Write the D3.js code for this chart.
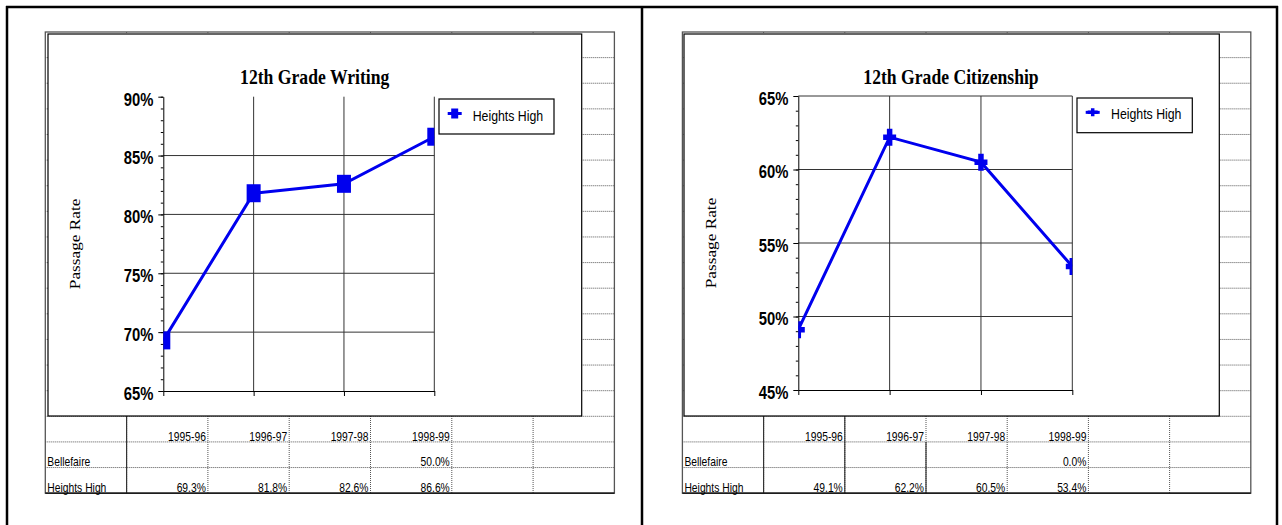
<!DOCTYPE html>
<html>
<head>
<meta charset="utf-8">
<script src="https://cdn.jsdelivr.net/npm/d3@7"></script>
<style>
  html, body { margin: 0; padding: 0; background: #fff; overflow: hidden; }
</style>
</head>
<body>
<div id="chart"></div>
<script>
var years = ['1995-96', '1996-97', '1997-98', '1998-99'];
var rowNames = ['Bellefaire', 'Heights High'];
var writingBellefaire = [null, null, null, 50.0];
var writingHeights = [69.3, 81.8, 82.6, 86.6];
var citizenBellefaire = [null, null, null, 0.0];
var citizenHeights = [49.1, 62.2, 60.5, 53.4];
var writingTicks = [65, 70, 75, 80, 85, 90];
var citizenTicks = [45, 50, 55, 60, 65];

var W = 1282, H = 525;
var blue = '#0000ee';
var SX = 0.82; // the scan is squeezed sideways, text looks tall and narrow
var sans = 'Arial, "Liberation Sans", sans-serif';
var serif = '"Times New Roman", "Liberation Serif", serif';

var panels = [
  {
    title: '12th Grade Writing', belle: writingBellefaire, heights: writingHeights,
    ticks: writingTicks, marker: 'square', topGrid: false,
    sheetX: 45.3, colW: 81.3, solidCols: [[1, 0]],
    box: [48, 34, 581.7, 416], plot: [163.3, 96.7, 434.3, 391],
    legend: [439, 99, 554, 134], titleX: 314.7, yTitleX: 80,
    legendTextX: 472.7, legendMarkX: 454.7
  },
  {
    title: '12th Grade Citizenship', belle: citizenBellefaire, heights: citizenHeights,
    ticks: citizenTicks, marker: 'cross', topGrid: true,
    sheetX: 682.4, colW: 81.2, solidCols: [[1, 0], [2, 0], [3, 1]],
    box: [684, 34, 1219.3, 416], plot: [798.3, 96, 1072.3, 390],
    legend: [1077, 98, 1192.3, 132.7], titleX: 951, yTitleX: 716,
    legendTextX: 1111, legendMarkX: 1092.7
  }
];

var sheetTop = 32, rowH = 25.62, nRows = 18, nCols = 7;

var svg = d3.select('#chart').append('svg')
  .attr('width', W).attr('height', H);

// squeezed text helper
function label(g, x, y, s, o) {
  o = o || {};
  var t = 'translate(' + x + ',' + y + ') scale(' + (o.sx || SX) + ',1)';
  if (o.rotate) t += ' rotate(-90)';
  return g.append('text')
    .attr('transform', t)
    .attr('text-anchor', o.anchor || 'start')
    .style('font-family', o.family || sans)
    .style('font-size', (o.size || 12) + 'px')
    .style('font-weight', o.bold ? 'bold' : 'normal')
    .style('fill', '#000')
    .text(s);
}

function crossPath(w, h, t) {
  return 'M' + (-t / 2) + ',' + (-h / 2) + 'H' + (t / 2) + 'V' + (-t / 2) + 'H' + (w / 2) +
    'V' + (t / 2) + 'H' + (t / 2) + 'V' + (h / 2) + 'H' + (-t / 2) + 'V' + (t / 2) +
    'H' + (-w / 2) + 'V' + (-t / 2) + 'H' + (-t / 2) + 'Z';
}

function drawMarker(g, kind, cx, cy, big) {
  if (kind === 'square') {
    var w = big ? 14 : 7, h = big ? 18 : 10;
    g.append('rect').attr('x', cx - w / 2).attr('y', cy - h / 2)
      .attr('width', w).attr('height', h).attr('fill', blue);
  } else {
    g.append('path').attr('transform', 'translate(' + cx + ',' + cy + ')')
      .attr('d', big ? crossPath(13, 17, 5.5) : crossPath(10, 8, 3.5))
      .attr('fill', blue);
  }
}

// page frame
var frame = svg.append('g').attr('stroke', '#000').attr('stroke-width', 2.5);
frame.append('line').attr('x1', 6).attr('x2', 1278).attr('y1', 7).attr('y2', 7);
[7, 642, 1277].forEach(function(x) {
  frame.append('line').attr('x1', x).attr('x2', x).attr('y1', 6).attr('y2', H);
});

panels.forEach(function(p, pi) {
  var g = svg.append('g');
  var sx0 = p.sheetX, sx1 = p.sheetX + nCols * p.colW;
  var sy1 = sheetTop + nRows * rowH;

  // spreadsheet cells behind the chart
  var sheet = g.append('g');
  d3.range(1, nRows).forEach(function(r) {
    sheet.append('line').attr('x1', sx0).attr('x2', sx1)
      .attr('y1', sheetTop + r * rowH).attr('y2', sheetTop + r * rowH)
      .attr('stroke', '#555').attr('stroke-dasharray', '1,1');
  });
  d3.range(1, nCols).forEach(function(c) {
    sheet.append('line').attr('x1', sx0 + c * p.colW).attr('x2', sx0 + c * p.colW)
      .attr('y1', sheetTop).attr('y2', sy1)
      .attr('stroke', '#555').attr('stroke-dasharray', '1,1');
  });
  p.solidCols.forEach(function(sc) {
    var x = sx0 + sc[0] * p.colW;
    sheet.append('line').attr('x1', x).attr('x2', x)
      .attr('y1', sheetTop + (nRows - 3 + sc[1]) * rowH).attr('y2', sy1)
      .attr('stroke', '#333').attr('stroke-width', 1.2);
  });
  sheet.append('rect').attr('x', sx0).attr('y', sheetTop)
    .attr('width', sx1 - sx0).attr('height', sy1 - sheetTop)
    .attr('fill', 'none').attr('stroke', '#555').attr('stroke-width', 1.3);
  sheet.append('line').attr('x1', sx0).attr('x2', sx1).attr('y1', sy1).attr('y2', sy1)
    .attr('stroke', '#000').attr('stroke-width', 1.3);

  // table text
  var rowBase = [sheetTop + (nRows - 2) * rowH - 1.2, sheetTop + (nRows - 1) * rowH - 1.2, sy1 - 1.5];
  years.forEach(function(yr, i) {
    label(g, sx0 + (i + 2) * p.colW - 2, rowBase[0], yr, { anchor: 'end', sx: 0.86 });
  });
  [p.belle, p.heights].forEach(function(vals, r) {
    label(g, sx0 + 2, rowBase[r + 1], rowNames[r], { sx: 0.86 });
    vals.forEach(function(v, i) {
      if (v === null) return;
      label(g, sx0 + (i + 2) * p.colW - 2, rowBase[r + 1], d3.format('.1f')(v) + '%', { anchor: 'end', sx: 0.86 });
    });
  });

  // chart object
  var b = p.box;
  g.append('rect').attr('x', b[0]).attr('y', b[1])
    .attr('width', b[2] - b[0]).attr('height', b[3] - b[1])
    .attr('fill', '#fff').attr('stroke', '#000').attr('stroke-width', 1.2);

  label(g, p.titleX, 84, p.title, { anchor: 'middle', family: serif, bold: true, size: 21.5 });
  label(g, p.yTitleX, (p.plot[1] + p.plot[3]) / 2, 'Passage Rate',
    { anchor: 'middle', family: serif, size: 17.3, rotate: true });

  var pl = p.plot;
  var x = d3.scalePoint().domain(years).range([pl[0], pl[2]]);
  var y = d3.scaleLinear().domain(d3.extent(p.ticks)).range([pl[3], pl[1]]);

  // grid
  var grid = g.append('g').attr('stroke', '#333').attr('stroke-width', 1);
  p.ticks.forEach(function(t, i) {
    if (i === 0) return;
    if (i === p.ticks.length - 1 && !p.topGrid) return;
    grid.append('line').attr('x1', pl[0]).attr('x2', pl[2]).attr('y1', y(t)).attr('y2', y(t));
  });
  years.slice(1).forEach(function(yr) {
    grid.append('line').attr('x1', x(yr)).attr('x2', x(yr)).attr('y1', pl[1]).attr('y2', pl[3]);
  });

  // axes
  var minor = g.append('g').attr('transform', 'translate(' + pl[0] + ',0)')
    .call(d3.axisLeft(y).tickValues(d3.range(p.ticks[0], p.ticks[p.ticks.length - 1] + 1))
      .tickSize(2.5).tickSizeOuter(0).tickFormat(''));
  minor.select('.domain').remove();
  minor.selectAll('line').attr('stroke', '#000');

  var yAxis = g.append('g').attr('transform', 'translate(' + pl[0] + ',0)')
    .call(d3.axisLeft(y).tickValues(p.ticks).tickSize(5).tickSizeOuter(0)
      .tickFormat(function(d) { return d + '%'; }));
  yAxis.select('.domain').attr('stroke', '#000');
  yAxis.selectAll('line').attr('stroke', '#000');
  yAxis.selectAll('text')
    .attr('x', null).attr('dy', null)
    .attr('transform', 'translate(-10,8.3) scale(0.8,1)')
    .style('font-family', sans).style('font-size', '18.5px')
    .style('font-weight', 'bold').attr('fill', '#000');

  var xAxis = g.append('g').attr('transform', 'translate(0,' + pl[3] + ')')
    .call(d3.axisBottom(x).tickSize(5).tickSizeOuter(0).tickFormat(''));
  xAxis.select('.domain').attr('stroke', '#000');
  xAxis.selectAll('line').attr('stroke', '#000');

  // series, clipped to the plot sides like the original
  var clipId = 'clip' + pi;
  g.append('clipPath').attr('id', clipId).append('rect')
    .attr('x', pl[0]).attr('y', pl[1] - 20)
    .attr('width', pl[2] - pl[0]).attr('height', pl[3] - pl[1] + 40);
  var series = g.append('g').attr('clip-path', 'url(#' + clipId + ')');
  var line = d3.line()
    .x(function(d, i) { return x(years[i]); })
    .y(function(d) { return y(d); });
  series.append('path').datum(p.heights).attr('d', line)
    .attr('fill', 'none').attr('stroke', blue).attr('stroke-width', 3);
  p.heights.forEach(function(v, i) {
    drawMarker(series, p.marker, x(years[i]), y(v), true);
  });

  // legend
  var lg = p.legend;
  g.append('rect').attr('x', lg[0]).attr('y', lg[1])
    .attr('width', lg[2] - lg[0]).attr('height', lg[3] - lg[1])
    .attr('fill', '#fff').attr('stroke', '#000').attr('stroke-width', 1.2);
  var my = (lg[1] + lg[3]) / 2 - 3;
  g.append('line').attr('x1', p.legendMarkX - 7).attr('x2', p.legendMarkX + 7)
    .attr('y1', my).attr('y2', my).attr('stroke', blue).attr('stroke-width', 3);
  drawMarker(g, p.marker, p.legendMarkX, my, false);
  label(g, p.legendTextX, my + 7, rowNames[1], { size: 14, sx: 0.88 });
});
</script>
</body>
</html>
